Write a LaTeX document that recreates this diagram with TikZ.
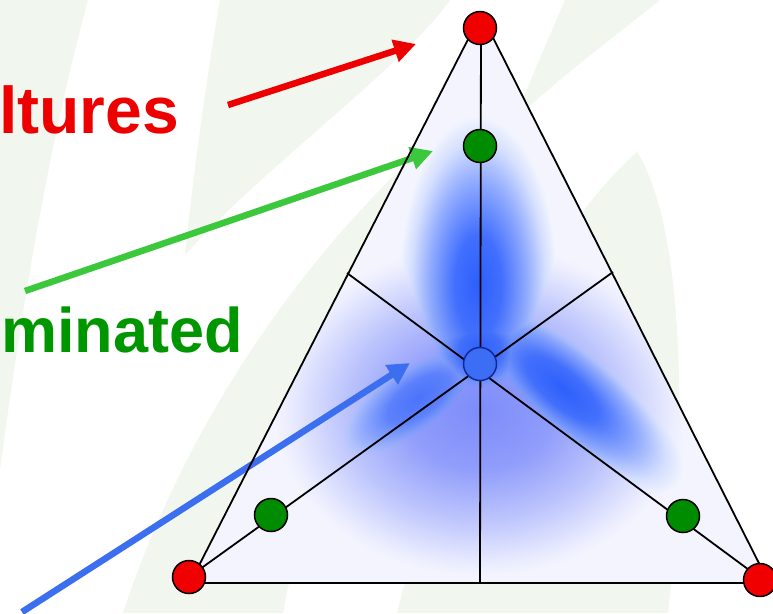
\documentclass[tikz,border=0pt]{standalone}
\usepackage{fontspec}
\setmainfont{Liberation Sans}
\usetikzlibrary{arrows.meta}
\definecolor{leaf}{RGB}{241,246,238}
\definecolor{tred}{RGB}{236,0,0}
\definecolor{tgreen}{RGB}{0,150,0}
\definecolor{agreen}{RGB}{60,200,60}
\definecolor{ablue}{RGB}{60,110,240}
\definecolor{dgreen}{RGB}{0,140,0}
\definecolor{dred}{RGB}{240,0,0}
\definecolor{dblue}{RGB}{60,110,245}
\definecolor{dbluerim}{RGB}{20,40,150}
\definecolor{shadeblue}{RGB}{45,95,255}
\definecolor{midblue}{RGB}{75,115,255}
\definecolor{fanblue}{RGB}{125,140,250}
\definecolor{tint}{RGB}{244,244,254}
\pgfdeclareradialshading{glowA}{\pgfpoint{0bp}{0bp}}{color(0bp)=(shadeblue); color(7bp)=(shadeblue!90!white); color(14bp)=(shadeblue!55!white); color(20bp)=(shadeblue!20!white); color(25bp)=(white); color(50bp)=(white)}
\pgfdeclareradialshading{glowB}{\pgfpoint{0bp}{0bp}}{color(0bp)=(midblue); color(7bp)=(midblue!90!white); color(14bp)=(midblue!55!white); color(20bp)=(midblue!20!white); color(25bp)=(white); color(50bp)=(white)}
\pgfdeclareradialshading{glowC}{\pgfpoint{0bp}{0bp}}{color(0bp)=(fanblue); color(8bp)=(fanblue!85!white); color(15bp)=(fanblue!50!white); color(21bp)=(fanblue!15!white); color(25bp)=(white); color(50bp)=(white)}
\tikzset{
  dot/.style={circle, draw=black, line width=1.5pt, minimum size=33pt, inner sep=0pt},
  pointer/.style={line width=6.5pt, -{Triangle[length=22pt,width=22pt]}},
  edge/.style={line width=1.8pt, black},
  big/.style={inner sep=0pt, anchor=base east}
}
\begin{document}
\begin{tikzpicture}[x=1pt,y=-1pt]
\useasboundingbox (0,0) rectangle (773,613);
\fill[white] (0,0) rectangle (773,613);
% background leaves
\fill[leaf] (0,0) -- (88,0) .. controls (55,120) and (25,280) .. (0,470) -- cycle;
\fill[leaf] (220,0) -- (450,0) .. controls (400,70) and (260,170) .. (185,255) .. controls (195,160) and (208,70) .. (220,0) -- cycle;
\fill[leaf] (123,613) .. controls (200,380) and (350,200) .. (480,100) -- (480,300) .. controls (380,400) and (300,500) .. (283,613) -- cycle;
\fill[leaf] (397,613) .. controls (450,400) and (560,220) .. (637,152) .. controls (680,220) and (690,400) .. (668,613) -- cycle;
\fill[leaf] (565,0) -- (660,0) .. controls (610,40) and (550,85) .. (515,120) .. controls (530,80) and (548,40) .. (565,0) -- cycle;
% geometry
\coordinate (TA) at (481,14);
\coordinate (TB) at (190,583);
\coordinate (TC) at (769,583);
\coordinate (MB) at (480,583);
\coordinate (ML) at (347,273);
\coordinate (MR) at (613,272);
% triangle fill and shading
\fill[tint] (TA) -- (TB) -- (TC) -- cycle;
\begin{scope}
\clip (TA) -- (TB) -- (TC) -- cycle;
\begin{scope}[blend mode=darken]
\begin{scope}[transform canvas={shift={(480,410)}}]
\shade[shading=glowC] (0,0) ellipse (230 and 185);
\end{scope}
\begin{scope}[transform canvas={shift={(478,285)}}]
\shade[shading=glowA] (0,0) ellipse (84 and 180);
\end{scope}
\begin{scope}[transform canvas={shift={(562,388)},rotate=-40}]
\shade[shading=glowA] (0,0) ellipse (160 and 62);
\end{scope}
\begin{scope}[transform canvas={shift={(418,398)},rotate=35}]
\shade[shading=glowB] (0,0) ellipse (125 and 60);
\end{scope}
\begin{scope}[transform canvas={shift={(480,350)}}]
\shade[shading=glowA] (0,0) ellipse (75 and 70);
\end{scope}
\end{scope}
\end{scope}
% arrows
\coordinate (r0) at (228,105);
\coordinate (r1) at (416,44);
\coordinate (g0) at (25,291);
\coordinate (g1) at (433,151);
\coordinate (b0) at (22,612);
\coordinate (b1) at (410,363);
\draw[pointer, tred] (r0) -- (r1);
\draw[pointer, agreen] (g0) -- (g1);
\draw[pointer, ablue] (b0) -- (b1);
% edges and medians
\draw[edge] (TA) -- (TB);
\draw[edge] (TA) -- (TC);
\draw[edge] (TB) -- (TC);
\draw[edge] (TA) -- (MB);
\draw[edge] (189,577) -- (MR);
\draw[edge] (764,581) -- (ML);
% dots
\node[dot, fill=dred] (vA) at (480,28) {};
\node[dot, fill=dred] (vB) at (189,577) {};
\node[dot, fill=dred] (vC) at (760,580) {};
\node[dot, fill=dgreen] (gA) at (480,146) {};
\node[dot, fill=dgreen] (gB) at (271,515) {};
\node[dot, fill=dgreen] (gC) at (683,516) {};
\node[dot, fill=dblue, draw=dbluerim] (ctr) at (480,364) {};
% texts
\node[big, text=tred, font=\fontsize{66}{72}\selectfont\bfseries] (t1) at (179,133) {ltures};
\node[big, text=tgreen, font=\fontsize{63}{69}\selectfont\bfseries] (t2) at (243,352) {minated};
\end{tikzpicture}
\end{document}
